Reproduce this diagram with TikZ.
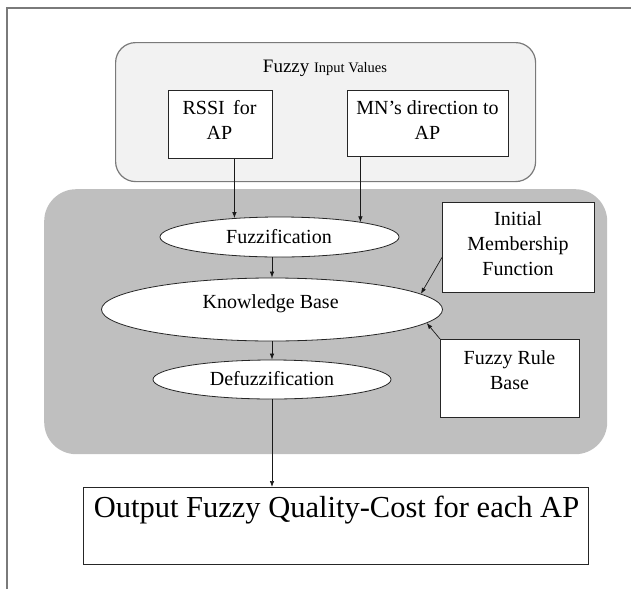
\documentclass[tikz,border=0pt]{standalone}
\usepackage{fontspec}
\setmainfont{Liberation Serif}
\usetikzlibrary{arrows.meta,shapes.geometric}
\definecolor{framegray}{HTML}{7A7A7A}
\definecolor{lightfill}{HTML}{F2F2F2}
\definecolor{midgray}{HTML}{BFBFBF}
\begin{document}
\begin{tikzpicture}[x=1pt,y=-1pt,
  txt/.style={font=\fontsize{20}{25}\selectfont, align=center, inner sep=0pt},
  boxnode/.style={draw=black!85, fill=white, line width=0.8pt, anchor=north west, inner sep=0pt},
  ellnode/.style={ellipse, draw=black!85, fill=white, line width=0.8pt, inner sep=0pt},
  arr/.style={-{Latex[length=6pt,width=4.5pt]}, line width=0.7pt, black!90},
]
\useasboundingbox (0,0) rectangle (631,589);
% outer frame
\draw[framegray, line width=1.6pt] (7,589) -- (7,8) -- (631,8);
% input group
\node[draw=framegray, fill=lightfill, line width=1.2pt, rounded corners=20pt,
  anchor=north west, minimum width=420pt, minimum height=139pt, inner sep=0pt] (inputgroup) at (115,42) {};
\node[anchor=base, inner sep=0pt] (title) at (325,72)
  {\fontsize{19}{21}\selectfont Fuzzy \fontsize{14.5}{16}\selectfont Input Values};
\node[boxnode, minimum width=104pt, minimum height=68pt] (rssibox) at (167.5,90) {};
\node[txt] (rssitxt) at (219.5,120) {RSSI\, for\\AP};
\node[boxnode, minimum width=161pt, minimum height=66pt] (mnbox) at (347,90) {};
\node[txt] (mntxt) at (427.5,120) {MN’s direction to\\AP};
% processing group
\node[fill=midgray, rounded corners=32pt, anchor=north west,
  minimum width=563pt, minimum height=265pt, inner sep=0pt] (procgroup) at (44,189) {};
\node[ellnode, minimum width=239pt, minimum height=40pt] (fuzz) at (279.5,237) {};
\node[txt, anchor=base] (fuzztxt) at (279,243.3) {Fuzzification};
\node[ellnode, minimum width=341pt, minimum height=63pt] (kb) at (272,309.5) {};
\node[txt, anchor=base] (kbtxt) at (270.6,308.5) {Knowledge Base};
\node[ellnode, minimum width=238pt, minimum height=39pt] (defuzz) at (272,379.5) {};
\node[txt, anchor=base] (defuzztxt) at (272,385.7) {Defuzzification};
\node[boxnode, minimum width=152pt, minimum height=90pt] (initbox) at (442,202) {};
\node[txt] (inittxt) at (518,244) {Initial\\Membership\\Function};
\node[boxnode, minimum width=139pt, minimum height=78pt] (rulebox) at (440,339) {};
\node[txt] (ruletxt) at (509.5,370.5) {Fuzzy Rule\\Base};
% output
\node[boxnode, minimum width=505pt, minimum height=77pt] (outbox) at (83,487) {};
\node[anchor=base, inner sep=0pt, font=\fontsize{30.5}{34}\selectfont] (outtxt) at (336.5,517.5)
  {Output Fuzzy Quality-Cost for each AP};
% connectors
\coordinate (s1) at ([xshift=14.5pt]rssibox.south);
\coordinate (s2) at ([xshift=-67.5pt]mnbox.south);
\draw[arr] (s1) -- (s1 |- fuzz.157.9);
\draw[arr] (s2) -- (s2 |- fuzz.10.4);
\draw[arr] (fuzz.south -| kb.north) -- (kb.north);
\draw[arr] (kb.south) -- (defuzz.north);
\draw[arr] (defuzz.south) -- (outbox.north -| defuzz.south);
\draw[arr] ([yshift=-10pt]initbox.west) -- (kb.6.9);
\draw[arr] (rulebox.north west) -- (kb.-5.5);
\end{tikzpicture}
\end{document}
